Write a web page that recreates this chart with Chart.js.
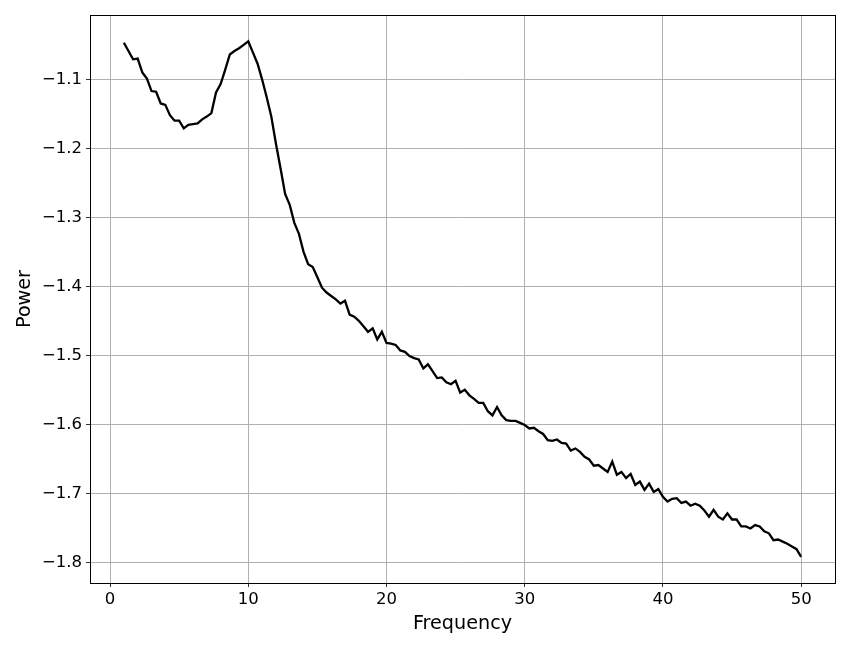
<!DOCTYPE html>
<html>
<head>
<meta charset="utf-8">
<script src="https://cdn.jsdelivr.net/npm/chart.js@4.4.1/dist/chart.umd.min.js"></script>
<style>
    body { margin: 0; background: #fff; }
    #wrap { width: 850px; height: 650px; }
</style>
</head>
<body>
<div id="wrap"><canvas id="mycanvas" width="850" height="650"></canvas></div>
<script>
// power spectrum, one value every 1/3 Hz from 1 to 50 Hz
let power = [
    -1.046, -1.058, -1.070,
    -1.069, -1.089, -1.098,
    -1.116, -1.117, -1.134,
    -1.136, -1.151, -1.159,
    -1.159, -1.170, -1.165,
    -1.164, -1.163, -1.157,
    -1.153, -1.148, -1.118,
    -1.106, -1.085, -1.063,
    -1.058, -1.054, -1.049,
    -1.044, -1.060, -1.076,
    -1.099, -1.125, -1.153,
    -1.192, -1.228, -1.265,
    -1.281, -1.307, -1.323,
    -1.349, -1.367, -1.371,
    -1.386, -1.401, -1.408,
    -1.413, -1.418, -1.424,
    -1.420, -1.440, -1.443,
    -1.449, -1.457, -1.465,
    -1.460, -1.476, -1.465,
    -1.481, -1.482, -1.484,
    -1.492, -1.494, -1.500,
    -1.503, -1.505, -1.518,
    -1.512, -1.522, -1.532,
    -1.531, -1.538, -1.541,
    -1.536, -1.553, -1.549,
    -1.557, -1.562, -1.568,
    -1.568, -1.580, -1.586,
    -1.574, -1.586, -1.593,
    -1.594, -1.594, -1.597,
    -1.600, -1.605, -1.604,
    -1.609, -1.613, -1.622,
    -1.623, -1.621, -1.626,
    -1.627, -1.637, -1.634,
    -1.639, -1.646, -1.650,
    -1.659, -1.658, -1.663,
    -1.668, -1.653, -1.672,
    -1.668, -1.677, -1.671,
    -1.687, -1.682, -1.694,
    -1.685, -1.697, -1.693,
    -1.704, -1.711, -1.707,
    -1.706, -1.713, -1.711,
    -1.717, -1.714, -1.717,
    -1.724, -1.733, -1.723,
    -1.733, -1.737, -1.728,
    -1.737, -1.737, -1.747,
    -1.747, -1.750, -1.745,
    -1.747, -1.754, -1.757,
    -1.767, -1.766, -1.769,
    -1.772, -1.776, -1.780,
    -1.791
];

let freqs = [];
for (let i = 0; i < power.length; i++) {
    freqs.push(1 + i / 3);
}

let xTicks = [0, 10, 20, 30, 40, 50];
let yTicks = [-1.8, -1.7, -1.6, -1.5, -1.4, -1.3, -1.2, -1.1];

let points = [];
for (let i in power) {
    points.push({x: freqs[i], y: power[i]});
}

// matplotlib style box round the plot area
let frame = {
    id: 'frame',
    afterDraw(chart) {
        let a = chart.chartArea;
        let ctx = chart.ctx;
        ctx.save();
        ctx.strokeStyle = '#000';
        ctx.lineWidth = 1;
        ctx.strokeRect(Math.round(a.left) + 0.5, Math.round(a.top) + 0.5,
            Math.round(a.right - a.left), Math.round(a.bottom - a.top));
        ctx.restore();
    }
};

let font = "'DejaVu Sans', sans-serif";

new Chart(document.getElementById('mycanvas'), {
    type: 'line',
    data: {
        datasets: [{
            data: points,
            borderColor: '#000',
            borderWidth: 2.3,
            pointRadius: 0,
            tension: 0,
            fill: false
        }]
    },
    options: {
        responsive: false,
        animation: false,
        layout: { padding: { left: 0, right: 15, top: 15, bottom: 0 } },
        plugins: { legend: { display: false }, tooltip: { enabled: false } },
        scales: {
            x: {
                type: 'linear',
                min: -1.45,
                max: 52.45,
                afterFit(scale) { scale.height = 67; },
                afterBuildTicks(scale) { scale.ticks = xTicks.map(v => ({value: v})); },
                grid: { color: '#b0b0b0', lineWidth: 1, tickColor: '#333', tickLength: 4 },
                border: { display: false },
                ticks: { color: '#000', padding: 3, font: { family: font, size: 16.5 },
                    callback: v => String(v) },
                title: { display: true, text: 'Frequency', color: '#000',
                    font: { family: font, size: 19.2 }, padding: { top: 0, bottom: 14 } }
            },
            y: {
                type: 'linear',
                min: -1.829,
                max: -1.0058,
                afterFit(scale) { scale.width = 90; },
                afterBuildTicks(scale) { scale.ticks = yTicks.map(v => ({value: v})); },
                grid: { color: '#b0b0b0', lineWidth: 1, tickColor: '#333', tickLength: 4 },
                border: { display: false },
                ticks: { color: '#000', padding: 4, font: { family: font, size: 16.5 },
                    callback: v => '\u2212' + Math.abs(v).toFixed(1) },
                title: { display: true, text: 'Power', color: '#000',
                    font: { family: font, size: 19.2 }, padding: { top: 13, bottom: 0 } }
            }
        }
    },
    plugins: [frame]
});
</script>
</body>
</html>
